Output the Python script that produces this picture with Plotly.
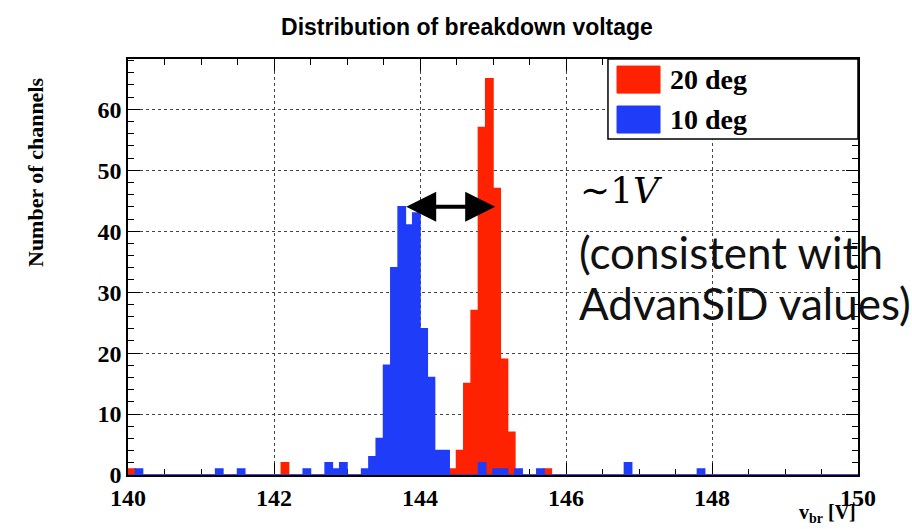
import plotly.graph_objects as go

# ---- data ----
bin_start = 140.0
bin_width = 0.1
n_bins = 100

red_edges = [140.0, 142.1, 144.4, 144.5, 144.6, 144.7, 144.8, 144.9, 145.0, 145.1, 145.2, 145.7]
red_counts = [1, 2, 1, 4, 15, 27, 57, 65, 47, 19, 7, 1]

blue_edges = [140.1, 141.2, 141.5, 142.4, 142.7, 142.8, 142.9, 143.2, 143.3, 143.4, 143.5,
              143.6, 143.7, 143.8, 143.9, 144.0, 144.1, 144.2, 144.3, 144.8, 145.0, 145.1,
              145.3, 145.6, 146.8, 147.8]
blue_counts = [1, 1, 1, 1, 2, 1, 2, 1, 3, 6, 18,
               34, 44, 41, 43, 24, 16, 4, 4, 2, 1, 1,
               1, 1, 2, 1]

x_ticks = [140, 142, 144, 146, 148, 150]
y_ticks = [0, 10, 20, 30, 40, 50, 60]

series_names = ["20 deg", "10 deg"]
red = "#ff2200"
blue = "#1f3cf8"


def full_hist(edges, counts):
    h = [0] * n_bins
    for e, c in zip(edges, counts):
        h[int(round((e - bin_start) / bin_width))] = c
    return h


edges_all = [round(bin_start + i * bin_width, 3) for i in range(n_bins + 1)]
red_hist = full_hist(red_edges, red_counts)
blue_hist = full_hist(blue_edges, blue_counts)

fig = go.Figure()
for hist, col, name in [(red_hist, red, series_names[0]), (blue_hist, blue, series_names[1])]:
    fig.add_trace(go.Scatter(
        x=edges_all, y=hist + [hist[-1]], mode="lines", line_shape="hv",
        line=dict(color=col, width=1.5), fill="tozeroy", fillcolor=col,
        name=name, showlegend=False, hoverinfo="skip"))

tick_font = dict(family="Liberation Serif", size=24, color="black", weight="bold")

fig.update_layout(
    width=912, height=529,
    margin=dict(l=128, r=54, t=59, b=54),
    paper_bgcolor="white", plot_bgcolor="white",
    title=dict(text="Distribution of breakdown voltage", x=467 / 912, xanchor="center",
               y=1 - 27 / 529, yanchor="middle",
               font=dict(family="Liberation Sans", size=23, color="black", weight="bold")),
    xaxis=dict(range=[140, 150], tickvals=x_ticks, ticks="inside", ticklen=12,
               tickwidth=1.2, tickcolor="black",
               minor=dict(dtick=0.5, tick0=140, ticks="inside", ticklen=6, tickcolor="black",
                          showgrid=False),
               showline=True, linecolor="black", linewidth=1.5, mirror="ticks",
               showgrid=True, gridcolor="#444", griddash="dot", gridwidth=1,
               tickfont=tick_font, zeroline=False, layer="below traces"),
    yaxis=dict(range=[0, 68.25], tickvals=y_ticks, ticks="inside", ticklen=12,
               tickwidth=1.2, tickcolor="black",
               minor=dict(dtick=2, tick0=0, ticks="inside", ticklen=6, tickcolor="black",
                          showgrid=False),
               showline=True, linecolor="black", linewidth=1.5, mirror="ticks",
               showgrid=True, gridcolor="#444", griddash="dot", gridwidth=1,
               tickfont=tick_font, zeroline=False, layer="below traces"),
)

# axis titles
fig.add_annotation(text="v<sub>br</sub> [V]", xref="paper", yref="paper", x=1.0, y=(475 - 528) / 416,
                   xanchor="right", yanchor="bottom", showarrow=False,
                   font=dict(family="Liberation Serif", size=20, color="black", weight="bold"))
fig.add_annotation(text="Number of channels", xref="paper", yref="paper",
                   x=(35 - 128) / 730, y=(475 - 173) / 416, textangle=-90,
                   xanchor="center", yanchor="middle", showarrow=False,
                   font=dict(family="Liberation Serif", size=22, color="black", weight="bold"))

# legend (ROOT-style box)
fig.add_shape(type="rect", xref="paper", yref="paper", x0=0.6575, x1=1.0, y0=0.8077, y1=1.0,
              line=dict(color="black", width=1.5), fillcolor="white", layer="above")
legend_rows = [(0.918, 0.983, red), (0.822, 0.887, blue)]
for (y0, y1, col), name in zip(legend_rows, series_names):
    fig.add_shape(type="rect", xref="paper", yref="paper", x0=0.6699, x1=0.7288, y0=y0, y1=y1,
                  line=dict(color=col, width=1), fillcolor=col, layer="above")
    fig.add_annotation(text=name, xref="paper", yref="paper", x=0.7397, y=(y0 + y1) / 2,
                       xanchor="left", yanchor="middle", showarrow=False,
                       font=dict(family="Liberation Serif", size=28, color="black", weight="bold"))

# double-headed arrow between peaks
fig.add_annotation(x=145.03, y=44, ax=143.79, ay=44, xref="x", yref="y", axref="x", ayref="y",
                   text="", showarrow=True, arrowside="end+start", arrowhead=2, arrowsize=1.5,
                   arrowwidth=4, arrowcolor="black", standoff=0, startstandoff=0)

# slide annotations
fig.add_annotation(text="∼1<i>V</i>", xref="paper", yref="paper", x=(578 - 128) / 730,
                   y=(475 - 190) / 416, xanchor="left", yanchor="middle", showarrow=False,
                   font=dict(family="DejaVu Serif", size=36, color="black"))
fig.add_annotation(text="(consistent with", xref="paper", yref="paper", x=(577 - 128) / 730,
                   y=(475 - 252) / 416, xanchor="left", yanchor="middle", showarrow=False,
                   font=dict(family="Lato", size=44, color="#111"))
fig.add_annotation(text="AdvanSiD values)", xref="paper", yref="paper", x=(577 - 128) / 730,
                   y=(475 - 303) / 416, xanchor="left", yanchor="middle", showarrow=False,
                   font=dict(family="Lato", size=44, color="#111"))

fig.write_html("out.html")
